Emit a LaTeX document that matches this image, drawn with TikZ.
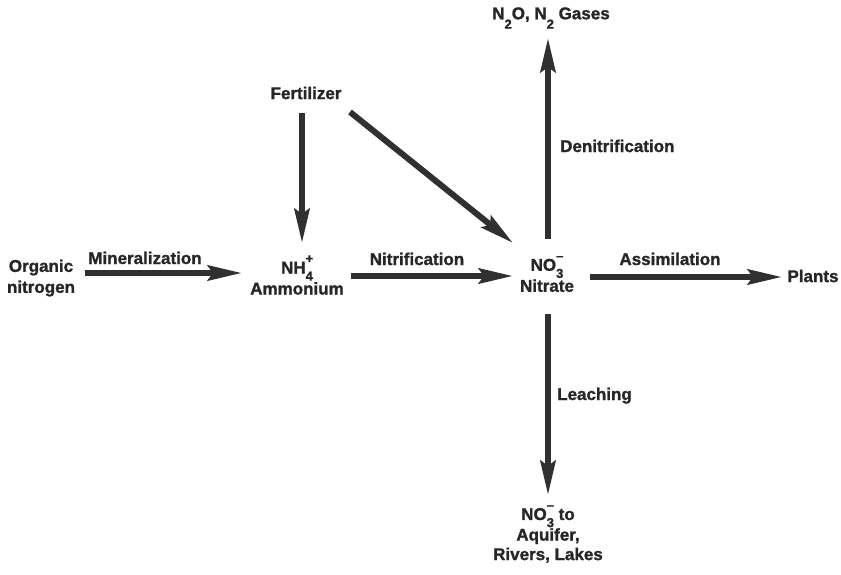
\documentclass[tikz,border=0pt]{standalone}
\usepackage{fontspec}
\setmainfont{Liberation Sans}[BoldFeatures={FakeBold=1.3}]
\usepackage{xcolor}
\usepackage{tikz}
\usetikzlibrary{arrows.meta}
\definecolor{ink}{HTML}{262626}
\definecolor{shaft}{HTML}{303030}
% stacked sub- and superscript, as in NH4+
\newcommand{\chemss}[2]{\rlap{\raisebox{0.62em}{\fontsize{13}{13}\selectfont #2}}\raisebox{-0.42em}{\fontsize{13}{13}\selectfont #1}}
\newcommand{\chemsub}[1]{\raisebox{-0.55em}{\fontsize{13}{13}\selectfont #1}}
\tikzset{
  flow/.style={line width=6pt, draw=shaft, -{Stealth[length=34pt,width=15pt,inset=5pt]}},
  lab/.style={text=ink, align=center, inner sep=0pt, font=\fontsize{17}{21}\selectfont\bfseries},
  proc/.style={text=ink, inner sep=0pt, font=\fontsize{17}{21}\selectfont\bfseries},
}

\begin{document}
\begin{tikzpicture}[x=1pt, y=-1pt]
  \useasboundingbox (0,0) rectangle (841,574);

  % compounds
  \node[lab] (org)    at (41,278)  {Organic\\nitrogen};
  \node[lab] (nh4)    at (297,275) {NH\chemss{4}{+}\\Ammonium};
  \node[lab] (no3)    at (547,274) {NO\chemss{3}{--}\\Nitrate};
  \node[lab] (fert)   at (306,93)  {Fertilizer};
  \node[lab] (gas)    at (551,18)  {N\chemsub{2}O, N\chemsub{2} Gases};
  \node[lab] (plants) at (813,276) {Plants};
  \node[lab, font=\fontsize{17}{19.5}\selectfont\bfseries] (aq) at (548,534) {NO\chemss{3}{--} to\\Aquifer,\\Rivers, Lakes};

  % processes
  \node[proc, anchor=base] (minl) at (145,264) {Mineralization};
  \node[proc, anchor=base] (nitr) at (417,265) {Nitrification};
  \node[proc, anchor=base] (assm) at (670,265) {Assimilation};
  \node[proc, anchor=base west] (denit) at (560,152) {Denitrification};
  \node[proc, anchor=base west] (leach) at (557,400) {Leaching};

  \draw[flow] ([shift={(44,-5)}]org.center) -- ([shift={(-55,-2)}]nh4.center);
  \draw[flow] ([shift={(-4,20)}]fert.center) -- ([shift={(5,-32)}]nh4.center);
  \draw[flow] ([shift={(44,19)}]fert.center) -- ([shift={(-34,-31)}]no3.center);
  \draw[flow] ([shift={(54,1)}]nh4.center) -- ([shift={(-34,2)}]no3.center);
  \draw[flow] ([shift={(1,-35)}]no3.center) -- ([shift={(-3,20)}]gas.center);
  \draw[flow] ([shift={(43,3)}]no3.center) -- ([shift={(-31,1)}]plants.center);
  \draw[flow] ([shift={(1,40)}]no3.center) -- ([shift={(0,-39)}]aq.center);
\end{tikzpicture}
\end{document}
